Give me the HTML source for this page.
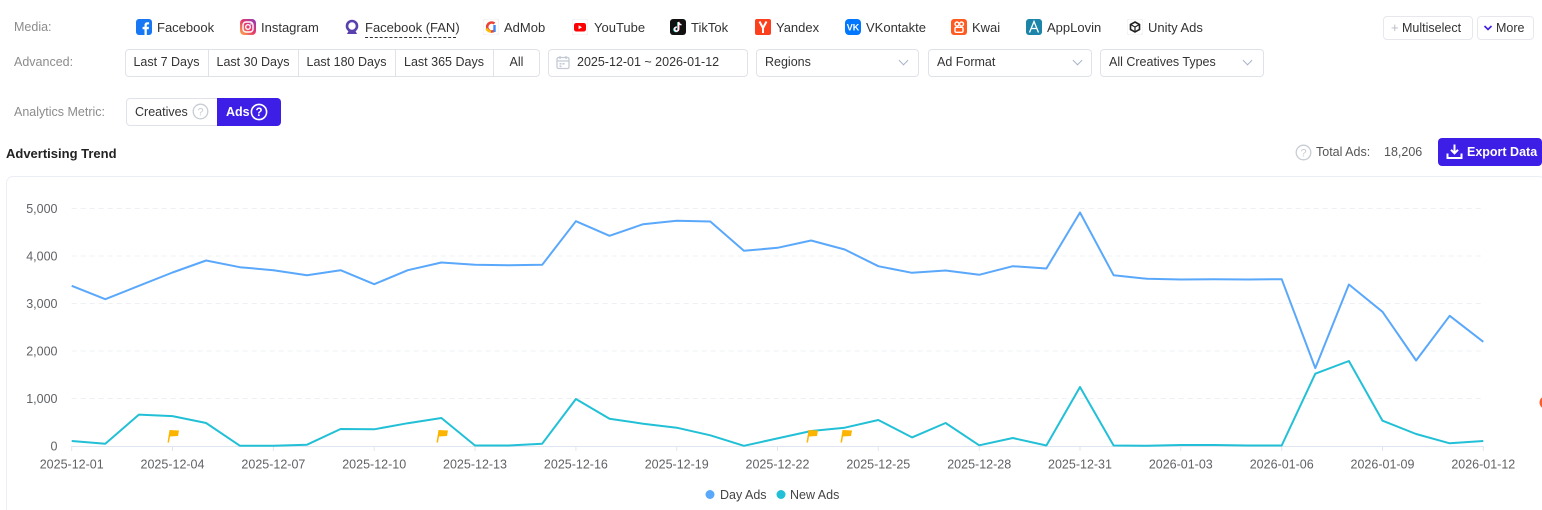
<!DOCTYPE html>
<html><head><meta charset="utf-8">
<style>
*{margin:0;padding:0;box-sizing:border-box}
html,body{width:1542px;height:510px;overflow:hidden;background:#fff}
body{position:relative;font-family:"Liberation Sans",sans-serif;color:#333;font-size:13px}
.a{position:absolute;white-space:nowrap}
.lbl{color:#8c8c8c;font-size:12.5px}
.ico{position:absolute;width:16px;height:16px;top:19px}
.mt{top:19px;line-height:17px;font-size:13px;color:#333}
.box{position:absolute;border:1px solid #dfe2e8;border-radius:4px;background:#fff}
.seg{position:absolute;top:49px;height:27px;line-height:26px;font-size:12.5px;color:#333;text-align:center}
.chev{position:absolute;width:7px;height:7px;border-right:1.5px solid #a9b4cc;border-bottom:1.5px solid #a9b4cc;transform:rotate(45deg)}
</style></head><body>

<!-- Row 1: Media -->
<div class="a lbl" style="left:14px;top:19px;line-height:17px">Media:</div>

<svg class="ico" style="left:136px" viewBox="0 0 16 16"><rect width="16" height="16" rx="3" fill="#1877f2"/><path d="M10.8 16V10.2h1.9l.3-2.3h-2.2V6.5c0-.7.2-1.1 1.1-1.1h1.2V3.3c-.2 0-.9-.1-1.7-.1-1.7 0-2.9 1-2.9 2.9v1.8H6.6v2.3h1.9V16z" fill="#fff"/></svg>
<div class="a mt" style="left:157px">Facebook</div>

<svg class="ico" style="left:240px" viewBox="0 0 16 16"><defs><linearGradient id="ig" x1="0" y1="1" x2="1" y2="0"><stop offset="0" stop-color="#fdb04a"/><stop offset=".5" stop-color="#e83a6b"/><stop offset="1" stop-color="#8a3ab9"/></linearGradient></defs><rect width="16" height="16" rx="4" fill="url(#ig)"/><rect x="3" y="3" width="10" height="10" rx="3" fill="none" stroke="#fff" stroke-width="1.4"/><circle cx="8" cy="8" r="2.3" fill="none" stroke="#fff" stroke-width="1.4"/><circle cx="11" cy="5" r=".8" fill="#fff"/></svg>
<div class="a mt" style="left:261px">Instagram</div>

<svg class="ico" style="left:344px" viewBox="0 0 16 16"><circle cx="8" cy="7" r="5" fill="none" stroke="#5a3fae" stroke-width="2.6"/><path d="M3 15 L5 11 L11 11 L13 15Z" fill="#5a3fae"/></svg>
<div class="a mt" style="left:365px">Facebook (FAN)</div>
<div class="a" style="left:365px;top:37px;width:91px;border-top:1px dashed #333"></div>

<svg class="ico" style="left:483px" viewBox="0 0 16 16"><rect width="16" height="16" rx="3" fill="#fff" stroke="#eee"/><path d="M11.5 4.5 A4.5 4.5 0 1 0 11.5 11.5" fill="none" stroke="#ea4335" stroke-width="2.6"/><path d="M3.6 9.5 A4.5 4.5 0 0 0 8 12.5" fill="none" stroke="#fbbc04" stroke-width="2.6"/><path d="M11.5 6 V13" stroke="#4285f4" stroke-width="2.4"/></svg>
<div class="a mt" style="left:504px">AdMob</div>

<svg class="ico" style="left:572px" viewBox="0 0 16 16"><rect width="16" height="16" rx="3" fill="#fff" stroke="#eee"/><rect x="2" y="4" width="12" height="8.5" rx="2.3" fill="#f00"/><path d="M6.6 6.2 L10 8.2 L6.6 10.2Z" fill="#fff"/></svg>
<div class="a mt" style="left:594px">YouTube</div>

<svg class="ico" style="left:670px" viewBox="0 0 16 16"><rect width="16" height="16" rx="3" fill="#111"/><path d="M8.5 3v7.2a2 2 0 1 1-1.8-2" fill="none" stroke="#25f4ee" stroke-width="1.6" transform="translate(-.5,.3)"/><path d="M8.5 3v7.2a2 2 0 1 1-1.8-2" fill="none" stroke="#fe2c55" stroke-width="1.6" transform="translate(.5,-.3)"/><path d="M8.5 3v7.2a2 2 0 1 1-1.8-2M8.5 3c.3 1.6 1.4 2.6 3 2.7" fill="none" stroke="#fff" stroke-width="1.5"/></svg>
<div class="a mt" style="left:691px">TikTok</div>

<svg class="ico" style="left:755px" viewBox="0 0 16 16"><rect width="16" height="16" rx="2" fill="#fc3f1d"/><path d="M4.5 2.5 L8 9 L11.5 2.5 M8 9 V14" fill="none" stroke="#fff" stroke-width="2"/></svg>
<div class="a mt" style="left:776px">Yandex</div>

<svg class="ico" style="left:845px" viewBox="0 0 16 16"><rect width="16" height="16" rx="4" fill="#0077ff"/><text x="8" y="11.6" text-anchor="middle" font-family="Liberation Sans" font-weight="bold" font-size="9" fill="#fff">VK</text></svg>
<div class="a mt" style="left:866px">VKontakte</div>

<svg class="ico" style="left:951px" viewBox="0 0 16 16"><rect width="16" height="16" rx="3" fill="#ff5a1f"/><circle cx="6" cy="5" r="2" fill="none" stroke="#fff" stroke-width="1.4"/><circle cx="10.5" cy="5" r="2" fill="none" stroke="#fff" stroke-width="1.4"/><rect x="4" y="8.3" width="8" height="5" rx="1.3" fill="none" stroke="#fff" stroke-width="1.4"/></svg>
<div class="a mt" style="left:972px">Kwai</div>

<svg class="ico" style="left:1026px" viewBox="0 0 16 16"><rect width="16" height="16" rx="3" fill="#1b84a8"/><path d="M3.5 13.5 L8 2.5 L12.5 13.5 M5.2 9.5 H10.8" fill="none" stroke="#fff" stroke-width="1.3"/></svg>
<div class="a mt" style="left:1047px">AppLovin</div>

<svg class="ico" style="left:1127px" viewBox="0 0 16 16"><rect width="16" height="16" rx="3" fill="#fff" stroke="#eee"/><path d="M8 3 L12.5 5.5 V10.5 L8 13 L3.5 10.5 V5.5Z" fill="none" stroke="#222" stroke-width="1.6"/><path d="M8 8 L12.5 5.5 M8 8 V13 M8 8 L3.5 5.5" stroke="#222" stroke-width="1.2"/></svg>
<div class="a mt" style="left:1148px">Unity Ads</div>

<div class="box" style="left:1383px;top:16px;width:90px;height:24px;border-color:#e6e8ee"></div>
<div class="a" style="left:1391px;top:19px;line-height:17px;color:#b8bcc6;font-size:13px">+</div>
<div class="a" style="left:1402px;top:20px;line-height:17px;font-size:12.5px;color:#333">Multiselect</div>
<div class="box" style="left:1477px;top:16px;width:57px;height:24px;border-color:#e6e8ee"></div>
<svg class="a" style="left:1483px;top:24px" width="10" height="8" viewBox="0 0 10 8"><path d="M1.5 2 L5 5.5 L8.5 2" fill="none" stroke="#3d1ee6" stroke-width="1.6"/></svg>
<div class="a" style="left:1496px;top:20px;line-height:17px;font-size:12.5px;color:#333">More</div>

<!-- Row 2: Advanced -->
<div class="a lbl" style="left:14px;top:54px;line-height:17px">Advanced:</div>
<div class="box" style="left:125px;top:49px;width:415px;height:28px"></div>
<div class="a" style="left:208px;top:50px;height:26px;border-left:1px solid #dfe2e8"></div>
<div class="a" style="left:298px;top:50px;height:26px;border-left:1px solid #dfe2e8"></div>
<div class="a" style="left:395px;top:50px;height:26px;border-left:1px solid #dfe2e8"></div>
<div class="a" style="left:493px;top:50px;height:26px;border-left:1px solid #dfe2e8"></div>
<div class="seg" style="left:125px;width:83px">Last 7 Days</div>
<div class="seg" style="left:208px;width:90px">Last 30 Days</div>
<div class="seg" style="left:298px;width:97px">Last 180 Days</div>
<div class="seg" style="left:395px;width:98px">Last 365 Days</div>
<div class="seg" style="left:493px;width:47px">All</div>

<div class="box" style="left:548px;top:49px;width:200px;height:28px"></div>
<svg class="a" style="left:556px;top:55px" width="14" height="15" viewBox="0 0 14 15"><rect x="1" y="2.5" width="12" height="11" rx="1.5" fill="none" stroke="#c4c9d4" stroke-width="1.3"/><path d="M1 6 H13 M4 1 V4 M10 1 V4" stroke="#c4c9d4" stroke-width="1.3"/><rect x="3.5" y="8" width="2" height="1.6" fill="#c4c9d4"/><rect x="6.5" y="8" width="2" height="1.6" fill="#c4c9d4"/><rect x="3.5" y="10.5" width="2" height="1.6" fill="#c4c9d4"/></svg>
<div class="a" style="left:577px;top:54px;line-height:17px;font-size:12.5px">2025-12-01 ~ 2026-01-12</div>

<div class="box" style="left:756px;top:49px;width:163px;height:28px"></div>
<div class="a" style="left:765px;top:54px;line-height:17px;font-size:12.5px">Regions</div>
<div class="chev" style="left:900px;top:57px"></div>

<div class="box" style="left:928px;top:49px;width:164px;height:28px"></div>
<div class="a" style="left:937px;top:54px;line-height:17px;font-size:12.5px">Ad Format</div>
<div class="chev" style="left:1074px;top:57px"></div>

<div class="box" style="left:1100px;top:49px;width:164px;height:28px"></div>
<div class="a" style="left:1109px;top:54px;line-height:17px;font-size:12.5px">All Creatives Types</div>
<div class="chev" style="left:1244px;top:57px"></div>

<!-- Row 3: Analytics Metric -->
<div class="a lbl" style="left:14px;top:104px;line-height:17px">Analytics Metric:</div>
<div class="box" style="left:126px;top:98px;width:95px;height:28px"></div>
<div class="a" style="left:135px;top:104px;line-height:17px;font-size:12.5px">Creatives</div>
<svg class="a" style="left:192px;top:103px" width="17" height="17" viewBox="0 0 17 17"><circle cx="8.5" cy="8.5" r="7.3" fill="none" stroke="#c8ccd4" stroke-width="1.3"/><text x="8.5" y="12.6" text-anchor="middle" font-family="Liberation Sans" font-size="11" fill="#c8ccd4">?</text></svg>
<div class="a" style="left:217px;top:98px;width:64px;height:28px;background:#3d1ee6;border-radius:0 4px 4px 0"></div>
<div class="a" style="left:226px;top:104px;line-height:17px;font-size:12.5px;color:#fff;font-weight:bold">Ads</div>
<svg class="a" style="left:250px;top:103px" width="18" height="18" viewBox="0 0 18 18"><circle cx="9" cy="9" r="7.6" fill="none" stroke="#fff" stroke-width="1.6"/><text x="9" y="13.2" text-anchor="middle" font-family="Liberation Sans" font-weight="bold" font-size="11.5" fill="#fff">?</text></svg>

<!-- Header -->
<div class="a" style="left:6px;top:145px;line-height:17px;font-size:13px;font-weight:bold;color:#222">Advertising Trend</div>
<svg class="a" style="left:1295px;top:144px" width="17" height="17" viewBox="0 0 17 17"><circle cx="8.5" cy="8.5" r="7.3" fill="none" stroke="#c8ccd4" stroke-width="1.3"/><text x="8.5" y="12.6" text-anchor="middle" font-family="Liberation Sans" font-size="11" fill="#c8ccd4">?</text></svg>
<div class="a" style="left:1316px;top:144px;line-height:17px;font-size:12.5px;color:#555">Total Ads:</div>
<div class="a" style="left:1384px;top:144px;line-height:17px;font-size:12.5px;color:#555">18,206</div>
<div class="a" style="left:1438px;top:138px;width:104px;height:28px;background:#3d1ee6;border-radius:4px"></div>
<svg class="a" style="left:1446px;top:143px" width="17" height="17" viewBox="0 0 17 17"><path d="M8.5 1.5 V10 M5 6.8 L8.5 10.3 L12 6.8" fill="none" stroke="#fff" stroke-width="2"/><path d="M1.5 10.5 V15 H15.5 V10.5" fill="none" stroke="#fff" stroke-width="2"/></svg>
<div class="a" style="left:1467px;top:144px;line-height:17px;font-size:12.5px;color:#fff;font-weight:bold">Export Data</div>

<!-- Card -->
<div class="a" style="left:6px;top:176px;width:1540px;height:345px;border:1px solid #eceef5;border-radius:7px"></div>

<!-- Chart -->
<svg class="a" style="left:0;top:0" width="1542" height="510" viewBox="0 0 1542 510">
<g stroke="#eef0f4" stroke-width="1" stroke-dasharray="5 4">
<line x1="71.7" y1="208.5" x2="1483.3" y2="208.5"/>
<line x1="71.7" y1="256" x2="1483.3" y2="256"/>
<line x1="71.7" y1="303.5" x2="1483.3" y2="303.5"/>
<line x1="71.7" y1="351" x2="1483.3" y2="351"/>
<line x1="71.7" y1="398.5" x2="1483.3" y2="398.5"/>
</g>
<line x1="71.7" y1="446.5" x2="1483.3" y2="446.5" stroke="#e0e6f1" stroke-width="1"/>
<g stroke="#e0e6f1" stroke-width="1">
<line x1="71.7" y1="446" x2="71.7" y2="451"/><line x1="172.5" y1="446" x2="172.5" y2="451"/><line x1="273.4" y1="446" x2="273.4" y2="451"/><line x1="374.2" y1="446" x2="374.2" y2="451"/><line x1="475" y1="446" x2="475" y2="451"/><line x1="575.9" y1="446" x2="575.9" y2="451"/><line x1="676.7" y1="446" x2="676.7" y2="451"/><line x1="777.5" y1="446" x2="777.5" y2="451"/><line x1="878.3" y1="446" x2="878.3" y2="451"/><line x1="979.2" y1="446" x2="979.2" y2="451"/><line x1="1080" y1="446" x2="1080" y2="451"/><line x1="1180.8" y1="446" x2="1180.8" y2="451"/><line x1="1281.7" y1="446" x2="1281.7" y2="451"/><line x1="1382.5" y1="446" x2="1382.5" y2="451"/><line x1="1483.3" y1="446" x2="1483.3" y2="451"/>
</g>
<g font-family="Liberation Sans" font-size="12.5" fill="#606266" text-anchor="end">
<text x="57.5" y="213">5,000</text><text x="57.5" y="260.5">4,000</text><text x="57.5" y="308">3,000</text><text x="57.5" y="355.5">2,000</text><text x="57.5" y="403">1,000</text><text x="57.5" y="450.5">0</text>
</g>
<g font-family="Liberation Sans" font-size="12.5" fill="#606266" text-anchor="middle">
<text x="71.7" y="468.5">2025-12-01</text><text x="172.5" y="468.5">2025-12-04</text><text x="273.4" y="468.5">2025-12-07</text><text x="374.2" y="468.5">2025-12-10</text><text x="475" y="468.5">2025-12-13</text><text x="575.9" y="468.5">2025-12-16</text><text x="676.7" y="468.5">2025-12-19</text><text x="777.5" y="468.5">2025-12-22</text><text x="878.3" y="468.5">2025-12-25</text><text x="979.2" y="468.5">2025-12-28</text><text x="1080" y="468.5">2025-12-31</text><text x="1180.8" y="468.5">2026-01-03</text><text x="1281.7" y="468.5">2026-01-06</text><text x="1382.5" y="468.5">2026-01-09</text><text x="1483.3" y="468.5">2026-01-12</text>
</g>
<polyline fill="none" stroke="#5aa8fb" stroke-width="2" stroke-linejoin="round" points="71.7,285.8 105.3,299.2 138.9,285.8 172.5,272.5 206.1,260.5 239.8,267.2 273.4,270.2 307,275.2 340.6,270.2 374.2,284.2 407.8,270.2 441.4,262.5 475,264.8 508.6,265.2 542.2,264.8 575.9,221.2 609.5,235.8 643.1,224.2 676.7,220.8 710.3,221.5 743.9,250.8 777.5,247.8 811.1,240.5 844.7,249.5 878.3,266.2 912,272.8 945.6,270.5 979.2,274.8 1012.8,266.2 1046.4,268.5 1080,212.5 1113.6,275.2 1147.2,278.8 1180.8,279.5 1214.4,279.2 1248.1,279.5 1281.7,279.2 1315.3,368.1 1348.9,284.5 1382.5,311.8 1416.1,360.5 1449.7,315.8 1483.3,341.8"/>
<polyline fill="none" stroke="#22c0d6" stroke-width="2" stroke-linejoin="round" points="71.7,441 105.3,443.7 138.9,414.6 172.5,416.1 206.1,423 239.8,445.7 273.4,445.7 307,444.7 340.6,429 374.2,429.3 407.8,423.2 441.4,418 475,445.5 508.6,445.5 542.2,443.7 575.9,399 609.5,418.7 643.1,423.7 676.7,427.7 710.3,435.3 743.9,445.8 777.5,438.4 811.1,431 844.7,427.7 878.3,420 912,437.4 945.6,423 979.2,445.3 1012.8,438 1046.4,445.5 1080,387 1113.6,445.5 1147.2,445.8 1180.8,445 1214.4,445 1248.1,445.5 1281.7,445.5 1315.3,373.7 1348.9,361 1382.5,420.7 1416.1,434 1449.7,443.3 1483.3,441"/>
<g fill="#fbb500">
<path d="M167.5,442.5 L169.5,430 L179,430.5 L178,436 L170,436.5 L169,442.5Z"/>
<path d="M436.5,442.5 L438.5,430 L448,430.5 L447,436 L439,436.5 L438,442.5Z"/>
<path d="M806.5,442.5 L808.5,430 L818,430.5 L817,436 L809,436.5 L808,442.5Z"/>
<path d="M840.5,442.5 L842.5,430 L852,430.5 L851,436 L843,436.5 L842,442.5Z"/>
</g>
<circle cx="1546" cy="402.5" r="6.5" fill="#f5602d"/>
<circle cx="710" cy="494.5" r="4.5" fill="#5aa8fb"/>
<circle cx="781" cy="494.5" r="4.5" fill="#22c0d6"/>
<g font-family="Liberation Sans" font-size="12.5" fill="#444">
<text x="720" y="499">Day Ads</text><text x="790" y="499">New Ads</text>
</g>
</svg>
</body></html>
